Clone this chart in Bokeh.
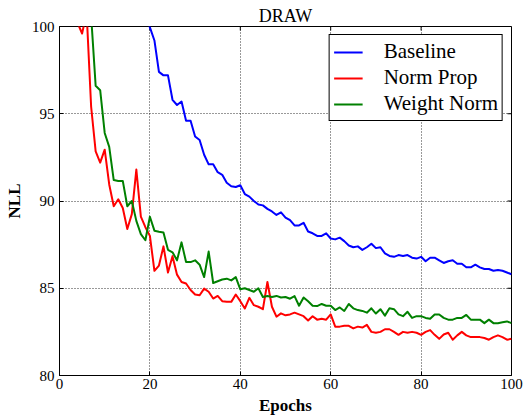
import math
from bokeh.plotting import figure
from bokeh.models import Range1d, FixedTicker, Legend, LegendItem, Title
from bokeh.embed import file_html
from bokeh.resources import INLINE

epochs = list(range(1, 101))

baseline = [140.0, 132.0, 126.0, 121.0, 117.0, 114.0, 111.5, 109.5, 108.0, 106.8,
            105.8, 104.9, 104.1, 103.4, 102.8, 102.2, 101.6, 101.1, 100.6, 99.95,
            99.2, 97.4, 97.2, 97.2, 95.8, 95.5, 95.7, 94.6, 94.6, 93.7,
            93.5, 92.65, 92.1, 92.1, 91.65, 91.5, 91.05, 90.85, 90.8, 90.9,
            90.4, 90.25, 90.0, 89.8, 89.75, 89.55, 89.4, 89.2, 89.35, 89.05,
            88.9, 88.6, 88.6, 88.75, 88.25, 88.15, 88.0, 88.0, 88.15, 87.85,
            87.8, 87.9, 87.7, 87.45, 87.35, 87.4, 87.2, 87.35, 87.55, 87.3,
            87.35, 87.0, 86.85, 86.8, 86.9, 86.85, 86.9, 86.75, 86.7, 86.8,
            86.55, 86.75, 86.75, 86.6, 86.45, 86.55, 86.6, 86.4, 86.4, 86.2,
            86.2, 86.35, 86.2, 86.1, 86.1, 86.0, 86.05, 86.0, 85.9, 85.8]

norm_prop = [125.0, 112.0, 104.0, 100.2, 99.6, 100.8, 95.4, 92.84, 92.2, 92.94,
             90.95, 89.7, 90.1, 89.6, 88.4, 89.25, 91.8, 89.1, 88.5, 88.0,
             86.0, 86.3, 87.4, 85.9, 86.84, 85.78, 85.36, 85.27, 84.9, 84.64,
             84.6, 84.98, 84.8, 84.41, 84.56, 84.26, 84.22, 84.22, 84.64, 84.26,
             83.84, 84.45, 84.03, 83.94, 83.8, 85.36, 83.94, 83.37, 83.56, 83.45,
             83.5, 83.6, 83.5, 83.4, 83.15, 83.4, 83.2, 83.25, 83.2, 83.5,
             82.8, 82.8, 82.85, 82.85, 82.7, 82.8, 82.75, 82.9, 82.5, 82.45,
             82.5, 82.65, 82.65, 82.5, 82.33, 82.5, 82.45, 82.5, 82.45, 82.33,
             82.5, 82.6, 82.33, 82.1, 82.35, 82.45, 82.05, 82.3, 82.5, 82.3,
             82.2, 82.2, 82.2, 82.15, 82.05, 82.2, 82.3, 82.2, 82.05, 82.1]

weight_norm = [150.0, 135.0, 124.0, 116.0, 110.0, 104.5, 100.6, 96.6, 96.35, 93.9,
               93.1, 91.2, 91.15, 91.15, 89.7, 90.0, 88.86, 88.1, 87.75, 89.1,
               88.3, 88.24, 88.2, 87.2, 87.06, 86.6, 87.63, 86.5, 86.5, 86.6,
               86.35, 85.64, 87.1, 85.3, 85.4, 85.5, 85.55, 85.45, 85.64, 84.94,
               85.0, 84.9, 84.8, 85.0, 84.5, 84.56, 84.5, 84.56, 84.47, 84.5,
               84.4, 84.55, 84.0, 84.47, 84.25, 84.0, 83.98, 84.1, 84.0, 84.0,
               83.75, 83.9, 83.7, 84.1, 83.85, 83.75, 83.7, 83.6, 83.85, 83.55,
               83.8, 83.43, 83.85, 83.8, 83.5, 83.4, 83.65, 83.3, 83.4, 83.4,
               83.3, 83.25, 83.5, 83.5, 83.3, 83.2, 83.2, 83.3, 83.3, 83.47,
               83.2, 83.2, 83.2, 83.0, 83.2, 83.0, 83.0, 83.05, 83.1, 83.0]

series_names = ["Baseline", "Norm Prop", "Weight Norm"]
series_colors = ["#0000ff", "#ff0000", "#008000"]
x_ticks = [0, 20, 40, 60, 80, 100]
y_ticks = [80, 85, 90, 95, 100]
X_MIN, X_MAX, Y_MIN, Y_MAX = 0, 100, 80, 100

FONT = "Liberation Serif"

p = figure(width=523, height=417, output_backend="svg", toolbar_location=None,
           x_range=Range1d(X_MIN, X_MAX), y_range=Range1d(Y_MIN, Y_MAX),
           min_border_left=59, min_border_right=12, min_border_top=26, min_border_bottom=40)
p.title = Title(text="DRAW", align="center", text_font=FONT, text_font_size="18px",
                text_font_style="normal", text_color="black", standoff=2, offset=0)
p.outline_line_color = "black"
p.outline_line_width = 1
p.outline_line_alpha = 1

for ax, ticks in ((p.xaxis[0], x_ticks), (p.yaxis[0], y_ticks)):
    ax.ticker = FixedTicker(ticks=ticks)
    ax.major_tick_in = 4
    ax.major_tick_out = 0
    ax.minor_tick_in = 0
    ax.minor_tick_out = 0
    ax.axis_line_color = "black"
    ax.major_tick_line_color = "black"
    ax.major_label_text_font = FONT
    ax.major_label_text_font_size = "15px"
    ax.major_label_text_color = "black"
    ax.axis_label_text_font = FONT
    ax.axis_label_text_font_size = "17px"
    ax.axis_label_text_font_style = "bold"
    ax.axis_label_text_color = "black"

p.xaxis[0].axis_label = "Epochs"
p.xaxis[0].major_label_standoff = 3
p.xaxis[0].axis_label_standoff = 4
p.yaxis[0].axis_label = "NLL"
p.yaxis[0].major_label_standoff = 5
p.yaxis[0].axis_label_standoff = 5

for g in (p.xgrid[0], p.ygrid[0]):
    g.grid_line_color = "black"
    g.grid_line_alpha = 0.8
    g.grid_line_dash = "1 2"
    g.grid_line_width = 1
p.xgrid[0].ticker = FixedTicker(ticks=x_ticks)
p.ygrid[0].ticker = FixedTicker(ticks=y_ticks)

# inward tick marks on the top and right edges of the frame
p.ray(x=x_ticks, y=[Y_MAX] * len(x_ticks), length=4, length_units="screen",
      angle=-math.pi / 2, line_color="black", line_width=1)
p.ray(x=[X_MAX] * len(y_ticks), y=y_ticks, length=4, length_units="screen",
      angle=math.pi, line_color="black", line_width=1)

items = []
for name, color, vals in zip(series_names, series_colors, [baseline, norm_prop, weight_norm]):
    r = p.line(epochs, vals, line_color=color, line_width=2, line_join="round")
    items.append(LegendItem(label=name, renderers=[r]))

legend = Legend(items=items, location="top_right", margin=8, padding=4, spacing=1,
                glyph_width=29, label_standoff=21, label_text_font=FONT,
                label_text_font_size="21px", label_text_color="black",
                border_line_color="black", border_line_width=1, border_line_alpha=1,
                background_fill_color="white", background_fill_alpha=1)
p.add_layout(legend, "center")

open("out.html", "w").write(file_html(p, INLINE))
